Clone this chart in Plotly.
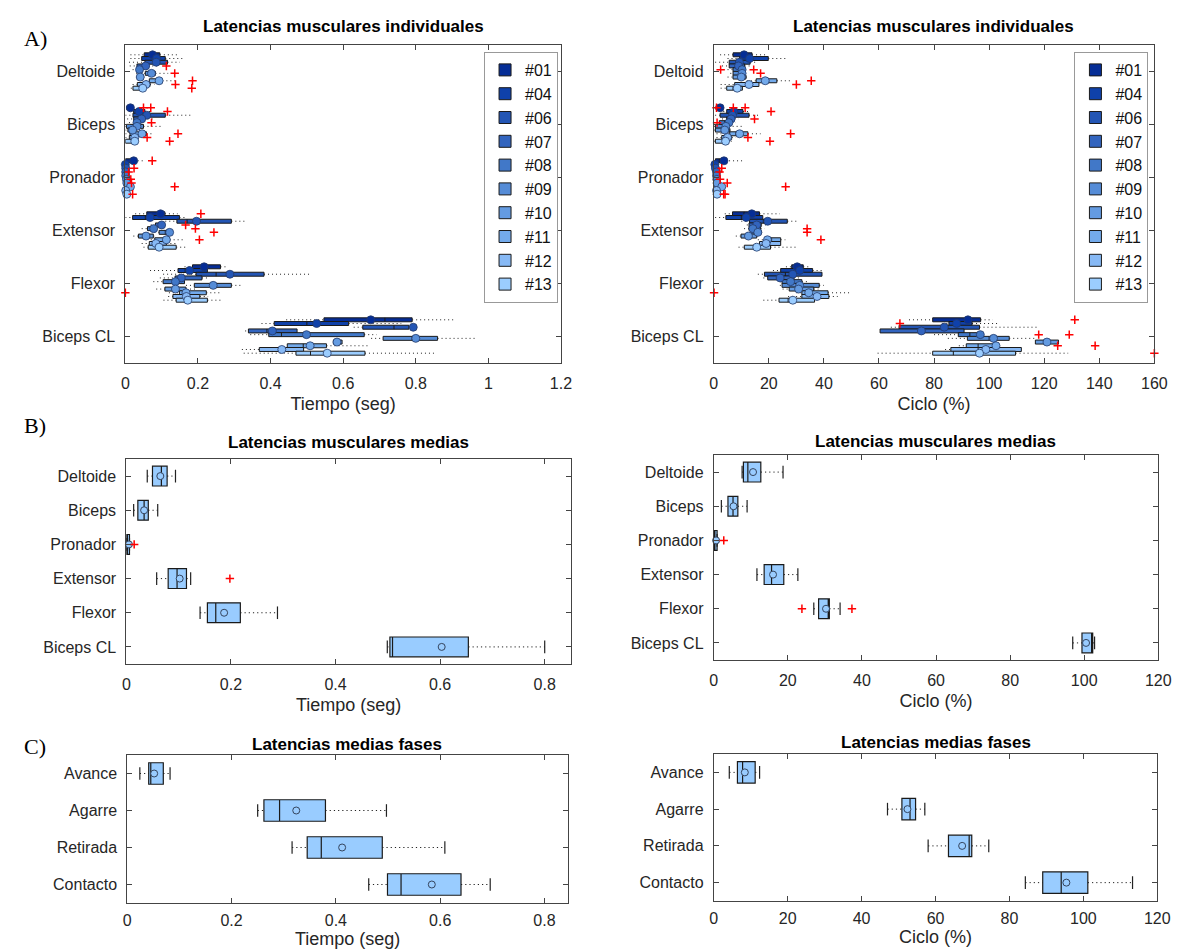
import plotly.graph_objects as go

W, H = 1183, 949
FONT = "Liberation Sans, Arial, sans-serif"

SUBJECTS = ["#01", "#04", "#06", "#07", "#08", "#09", "#10", "#11", "#12", "#13"]
SUBJ_COLORS = ["#052d96", "#0f41aa", "#2355b4", "#3264be", "#4178c8", "#558cd7",
               "#649be1", "#73aaeb", "#87b9f5", "#9bcdff"]

MUSCLES_T = ["Deltoide", "Biceps", "Pronador", "Extensor", "Flexor", "Biceps CL"]
MUSCLES_C = ["Deltoid", "Biceps", "Pronador", "Extensor", "Flexor", "Biceps CL"]
PHASES = ["Avance", "Agarre", "Retirada", "Contacto"]

# ---------- Individual latencies, time (s): [muscle][subject] ----------
t_lo = [
    [0.014, 0.014, 0.010, 0.012, 0.020, 0.030, 0.030, 0.045, 0.020, 0.015],
    [0.002, 0.010, 0.000, 0.005, 0.010, 0.000, 0.000, 0.000, 0.000, 0.000],
    [0.000, 0.000, 0.000, 0.000, 0.000, 0.000, 0.000, 0.000, 0.000, 0.000],
    [0.027, 0.000, 0.110, 0.070, 0.045, 0.080, 0.022, 0.070, 0.045, 0.050],
    [0.163, 0.068, 0.104, 0.095, 0.077, 0.167, 0.085, 0.120, 0.118, 0.105],
    [0.443, 0.375, 0.629, 0.330, 0.344, 0.677, 0.573, 0.446, 0.321, 0.326],
]
t_q1 = [
    [0.052, 0.045, 0.054, 0.032, 0.033, 0.055, 0.033, 0.066, 0.033, 0.021],
    [0.004, 0.023, 0.021, 0.023, 0.023, 0.003, 0.007, 0.013, 0.011, 0.000],
    [0.000, 0.000, 0.000, 0.000, 0.000, 0.000, 0.000, 0.002, 0.000, 0.000],
    [0.059, 0.020, 0.142, 0.083, 0.061, 0.093, 0.036, 0.081, 0.066, 0.063],
    [0.185, 0.145, 0.195, 0.137, 0.104, 0.190, 0.109, 0.149, 0.131, 0.140],
    [0.547, 0.410, 0.654, 0.339, 0.395, 0.710, 0.573, 0.446, 0.369, 0.470],
]
t_med = [
    [0.072, 0.080, 0.085, 0.050, 0.040, 0.070, 0.040, 0.085, 0.050, 0.040],
    [0.010, 0.035, 0.045, 0.040, 0.030, 0.030, 0.020, 0.040, 0.025, 0.025],
    [0.015, 0.000, 0.001, 0.001, 0.001, 0.002, 0.003, 0.010, 0.001, 0.003],
    [0.090, 0.055, 0.170, 0.095, 0.075, 0.110, 0.055, 0.105, 0.080, 0.085],
    [0.215, 0.165, 0.250, 0.150, 0.130, 0.235, 0.140, 0.160, 0.165, 0.170],
    [0.715, 0.500, 0.740, 0.390, 0.430, 0.790, 0.585, 0.490, 0.430, 0.510],
]
t_q3 = [
    [0.095, 0.110, 0.116, 0.063, 0.047, 0.083, 0.050, 0.102, 0.068, 0.052],
    [0.014, 0.054, 0.110, 0.050, 0.041, 0.050, 0.027, 0.058, 0.031, 0.031],
    [0.023, 0.002, 0.002, 0.002, 0.003, 0.004, 0.005, 0.014, 0.002, 0.005],
    [0.109, 0.149, 0.292, 0.104, 0.086, 0.127, 0.077, 0.122, 0.113, 0.140],
    [0.262, 0.226, 0.382, 0.211, 0.163, 0.292, 0.167, 0.223, 0.205, 0.226],
    [0.790, 0.615, 0.781, 0.473, 0.658, 0.860, 0.597, 0.554, 0.491, 0.660],
]
t_hi = [
    [0.149, 0.158, 0.150, 0.095, 0.060, 0.118, 0.060, 0.138, 0.080, 0.060],
    [0.020, 0.070, 0.184, 0.075, 0.050, 0.100, 0.040, 0.080, 0.040, 0.040],
    [0.050, 0.004, 0.004, 0.004, 0.004, 0.006, 0.007, 0.020, 0.004, 0.008],
    [0.144, 0.170, 0.334, 0.110, 0.090, 0.135, 0.080, 0.163, 0.140, 0.172],
    [0.276, 0.226, 0.511, 0.231, 0.163, 0.317, 0.195, 0.265, 0.228, 0.270],
    [0.905, 0.760, 0.800, 0.473, 0.692, 0.967, 0.597, 0.674, 0.491, 0.850],
]
t_mean = [
    [0.075, 0.086, 0.085, 0.056, 0.039, 0.072, 0.041, 0.093, 0.057, 0.048],
    [0.014, 0.038, 0.059, 0.045, 0.032, 0.032, 0.020, 0.046, 0.026, 0.026],
    [0.023, 0.000, 0.001, 0.001, 0.001, 0.003, 0.004, 0.014, 0.001, 0.004],
    [0.097, 0.068, 0.196, 0.100, 0.078, 0.122, 0.057, 0.113, 0.084, 0.093],
    [0.217, 0.177, 0.288, 0.154, 0.138, 0.242, 0.138, 0.167, 0.168, 0.172],
    [0.676, 0.527, 0.793, 0.405, 0.499, 0.800, 0.583, 0.509, 0.431, 0.556],
]
# outliers: (muscle, subject, value)
t_out = [
    (0, 3, 0.113), (0, 5, 0.136), (0, 7, 0.185), (0, 8, 0.138), (0, 9, 0.183),
    (1, 0, 0.050), (1, 0, 0.070), (1, 1, 0.116), (1, 4, 0.072), (1, 7, 0.145),
    (1, 8, 0.060), (1, 9, 0.122),
    (2, 0, 0.074), (2, 2, 0.024), (2, 3, 0.009), (2, 5, 0.015), (2, 6, 0.017),
    (2, 7, 0.136), (2, 9, 0.020),
    (3, 0, 0.208), (3, 3, 0.166), (3, 4, 0.193), (3, 5, 0.244), (3, 7, 0.204),
    (4, 7, 0.000),
]

# ---------- Individual latencies, cycle (%): [muscle][subject] ----------
c_lo = [
    [2.3, 5.0, 0.5, 3.0, 5.0, 6.0, 5.0, 12.0, 2.5, 2.5],
    [0.5, 2.0, 0.5, 3.0, 1.5, 0.0, 0.0, 1.0, 1.0, 0.0],
    [0.0, 0.0, 0.0, 0.0, 0.0, 0.0, 0.0, 0.0, 0.0, 0.0],
    [4.0, 0.5, 10.0, 12.0, 11.0, 12.0, 8.0, 16.0, 15.0, 9.0],
    [26.2, 21.5, 16.0, 18.0, 24.0, 24.0, 25.0, 30.0, 27.0, 18.0],
    [70.9, 83.0, 64.3, 60.4, 80.0, 85.0, 116.8, 89.0, 84.0, 59.5],
]
c_q1 = [
    [7.0, 9.4, 5.6, 5.6, 7.0, 7.0, 7.0, 15.4, 7.6, 4.7],
    [0.8, 4.7, 2.3, 4.7, 2.0, 0.6, 0.6, 5.8, 2.9, 0.6],
    [0.6, 0.0, 0.0, 0.0, 0.0, 0.0, 0.2, 0.5, 0.0, 0.2],
    [6.8, 4.4, 13.0, 12.8, 12.8, 13.5, 9.9, 19.0, 16.6, 11.1],
    [28.3, 24.3, 18.4, 19.6, 24.8, 24.8, 27.4, 32.0, 32.0, 23.7],
    [79.5, 85.4, 67.3, 60.4, 88.8, 92.1, 116.8, 91.7, 86.1, 79.5],
]
c_med = [
    [10.0, 12.0, 8.0, 8.5, 10.0, 10.0, 9.0, 18.0, 12.0, 7.0],
    [1.5, 7.0, 6.0, 6.0, 4.0, 3.5, 3.0, 8.0, 4.5, 3.5],
    [2.0, 0.2, 0.3, 0.5, 0.5, 0.6, 0.8, 2.0, 0.5, 0.8],
    [11.0, 10.0, 18.0, 15.0, 14.0, 15.0, 12.0, 21.0, 19.0, 15.0],
    [30.0, 30.0, 26.0, 23.0, 27.0, 30.0, 30.0, 34.0, 37.0, 27.0],
    [93.0, 88.0, 85.0, 75.0, 93.0, 100.0, 120.0, 96.0, 96.0, 87.0],
]
c_q3 = [
    [13.9, 19.8, 13.2, 11.2, 11.2, 10.6, 11.7, 22.9, 16.4, 10.4],
    [2.3, 10.6, 12.8, 7.5, 6.5, 5.4, 5.8, 12.4, 6.5, 4.7],
    [4.1, 0.5, 0.7, 1.0, 1.0, 1.2, 1.4, 3.0, 1.0, 1.4],
    [16.6, 17.8, 26.7, 17.2, 17.0, 17.2, 15.6, 24.3, 24.3, 20.6],
    [32.5, 35.9, 39.3, 29.1, 32.0, 38.3, 36.3, 41.5, 41.8, 36.6],
    [96.9, 93.8, 96.5, 90.9, 97.3, 107.3, 125.2, 103.0, 111.7, 109.6],
]
c_hi = [
    [19.6, 27.0, 16.0, 14.0, 12.5, 12.0, 13.0, 28.0, 16.4, 10.4],
    [3.0, 12.5, 16.7, 9.0, 8.0, 10.2, 7.0, 17.0, 8.0, 7.0],
    [11.2, 0.8, 1.0, 1.4, 1.4, 1.6, 2.0, 4.0, 1.4, 2.0],
    [24.0, 17.8, 30.9, 20.0, 18.5, 18.5, 17.0, 26.0, 24.3, 29.7],
    [34.5, 40.0, 39.3, 32.0, 34.0, 40.0, 38.0, 49.4, 45.0, 36.6],
    [101.3, 103.0, 117.4, 90.9, 97.3, 117.0, 125.2, 103.0, 111.7, 128.7],
]
c_mean = [
    [11.0, 13.0, 9.3, 9.0, 10.3, 10.3, 10.0, 18.7, 12.8, 8.5],
    [2.3, 7.3, 6.8, 6.3, 5.5, 4.4, 4.0, 9.4, 5.0, 4.3],
    [3.7, 0.4, 0.6, 1.0, 1.0, 1.1, 1.2, 2.9, 1.0, 1.2],
    [13.8, 11.8, 19.6, 15.6, 14.2, 16.0, 12.6, 19.5, 19.0, 15.6],
    [30.3, 31.2, 28.7, 24.1, 27.9, 31.2, 30.8, 34.5, 37.5, 28.7],
    [92.3, 88.2, 83.7, 75.4, 96.8, 101.6, 121.0, 102.5, 98.8, 96.5],
]
c_out = [
    (0, 4, 2.5), (0, 4, 14.5), (0, 5, 17.0), (0, 7, 35.4), (0, 8, 30.0),
    (1, 0, 1.0), (1, 0, 7.1), (1, 0, 11.4), (1, 1, 20.8), (1, 3, 14.8), (1, 4, 1.2),
    (1, 7, 27.9), (1, 8, 12.4), (1, 9, 20.4),
    (2, 2, 2.9), (2, 3, 2.1), (2, 5, 2.3), (2, 6, 4.9), (2, 7, 26.1), (2, 9, 3.6), (2, 9, 4.1),
    (3, 4, 33.9), (3, 5, 33.9), (3, 7, 38.9),
    (4, 7, 0.1),
    (5, 0, 131.1), (5, 1, 67.6), (5, 4, 118.0), (5, 4, 129.1), (5, 7, 124.9),
    (5, 7, 138.5), (5, 9, 160.0),
]

# ---------- Mean latencies per muscle ----------
mt_lo = [0.040, 0.014, 0.000, 0.058, 0.141, 0.499]
mt_q1 = [0.050, 0.022, 0.000, 0.080, 0.155, 0.504]
mt_med = [0.067, 0.034, 0.002, 0.097, 0.171, 0.509]
mt_q3 = [0.078, 0.042, 0.006, 0.115, 0.218, 0.654]
mt_hi = [0.094, 0.060, 0.006, 0.123, 0.289, 0.800]
mt_mean = [0.065, 0.034, 0.005, 0.102, 0.187, 0.603]
mt_out = [(2, 0.015), (3, 0.198)]

mc_lo = [7.65, 2.05, 0.0, 11.65, 27.0, 96.9]
mc_q1 = [8.0, 3.83, 0.0, 13.6, 28.3, 99.4]
mc_med = [9.2, 5.2, 0.3, 15.6, 30.9, 102.0]
mc_q3 = [12.7, 6.5, 0.9, 18.9, 31.2, 102.3]
mc_hi = [18.7, 9.0, 0.9, 22.7, 34.1, 102.8]
mc_mean = [10.6, 5.33, 0.63, 16.0, 30.3, 100.5]
mc_out = [(2, 2.7), (4, 23.8), (4, 37.3)]

# ---------- Mean latencies per phase ----------
pt_lo = [0.024, 0.250, 0.316, 0.463]
pt_q1 = [0.041, 0.262, 0.345, 0.499]
pt_med = [0.045, 0.292, 0.372, 0.525]
pt_q3 = [0.069, 0.380, 0.489, 0.640]
pt_hi = [0.082, 0.497, 0.609, 0.696]
pt_mean = [0.0515, 0.324, 0.412, 0.584]

pc_lo = [4.2, 47.0, 58.0, 84.3]
pc_q1 = [6.4, 50.9, 63.5, 89.0]
pc_med = [7.8, 53.1, 69.1, 94.0]
pc_q3 = [11.2, 54.6, 69.8, 101.2]
pc_hi = [12.4, 57.1, 74.4, 113.3]
pc_mean = [8.4, 52.4, 67.2, 95.4]

# ---------------------------------------------------------------------
fig = go.Figure()

def px_dom_x(a, b):
    return [a / W, b / W]

def px_dom_y(top, bottom):
    return [1 - bottom / H, 1 - top / H]

OFFSET = 0.07
LIGHT = "#99ccff"
EDGE = "#1a1a1a"


def individual(ax, lo, q1, med, q3, hi, mean, outs, legend):
    xa, ya = ("x" + ax, "y" + ax) if ax != "1" else ("x", "y")
    wx, wy = [], []
    for m in range(6):
        for s in range(10):
            pos = m + 1 + (s - 4.5) * OFFSET
            wx += [lo[m][s], q1[m][s], None, q3[m][s], hi[m][s], None]
            wy += [pos, pos, None, pos, pos, None]
    fig.add_trace(go.Scatter(x=wx, y=wy, mode="lines", xaxis=xa, yaxis=ya,
                             line=dict(color="#222222", width=1, dash="1px,3px"),
                             showlegend=False, hoverinfo="skip"))
    for s in range(10):
        pos = [m + 1 + (s - 4.5) * OFFSET for m in range(6)]
        fig.add_trace(go.Box(
            y=pos, orientation="h", name=SUBJECTS[s],
            q1=[q1[m][s] for m in range(6)],
            median=[med[m][s] for m in range(6)],
            q3=[q3[m][s] for m in range(6)],
            lowerfence=[q1[m][s] for m in range(6)],
            upperfence=[q3[m][s] for m in range(6)],
            width=0.075, whiskerwidth=0, boxpoints=False,
            fillcolor=SUBJ_COLORS[s], line=dict(color=EDGE, width=1),
            xaxis=xa, yaxis=ya, legend=legend, showlegend=True, hoverinfo="skip"))
    mx, my, mcol = [], [], []
    for m in range(6):
        for s in range(10):
            mx.append(mean[m][s])
            my.append(m + 1 + (s - 4.5) * OFFSET)
            mcol.append(SUBJ_COLORS[s])
    fig.add_trace(go.Scatter(x=mx, y=my, mode="markers", xaxis=xa, yaxis=ya,
                             marker=dict(size=8, color=mcol,
                                         line=dict(color="#233a6a", width=0.8)),
                             cliponaxis=False, showlegend=False, hoverinfo="skip"))
    ox = [o[2] for o in outs]
    oy = [o[0] + 1 + (o[1] - 4.5) * OFFSET for o in outs]
    fig.add_trace(go.Scatter(x=ox, y=oy, mode="markers", xaxis=xa, yaxis=ya,
                             marker=dict(symbol="cross-thin", size=6,
                                         line=dict(color="red", width=1.5)),
                             cliponaxis=False, showlegend=False, hoverinfo="skip"))


def summary(ax, lo, q1, med, q3, hi, mean, outs):
    xa, ya = "x" + ax, "y" + ax
    n = len(q1)
    pos = list(range(1, n + 1))
    wx, wy = [], []
    for i in range(n):
        wx += [lo[i], q1[i], None, q3[i], hi[i], None]
        wy += [pos[i], pos[i], None, pos[i], pos[i], None]
    fig.add_trace(go.Scatter(x=wx, y=wy, mode="lines", xaxis=xa, yaxis=ya,
                             line=dict(color="#222222", width=1, dash="1.2px,3px"),
                             showlegend=False, hoverinfo="skip"))
    fig.add_trace(go.Scatter(x=lo + hi, y=pos + pos, mode="markers", xaxis=xa, yaxis=ya,
                             marker=dict(symbol="line-ns", size=9,
                                         line=dict(color="#222222", width=1.2)),
                             showlegend=False, hoverinfo="skip"))
    fig.add_trace(go.Box(y=pos, orientation="h", q1=q1, median=med, q3=q3,
                         lowerfence=q1, upperfence=q3, width=0.58, whiskerwidth=0,
                         boxpoints=False, fillcolor=LIGHT,
                         line=dict(color=EDGE, width=1.2),
                         xaxis=xa, yaxis=ya, showlegend=False, hoverinfo="skip"))
    fig.add_trace(go.Scatter(x=mean, y=pos, mode="markers", xaxis=xa, yaxis=ya,
                             marker=dict(size=7, color=LIGHT,
                                         line=dict(color="#34445e", width=1)),
                             cliponaxis=False, showlegend=False, hoverinfo="skip"))
    if outs:
        fig.add_trace(go.Scatter(x=[o[1] for o in outs], y=[o[0] + 1 for o in outs],
                                 mode="markers", xaxis=xa, yaxis=ya,
                                 marker=dict(symbol="cross-thin", size=6,
                                             line=dict(color="red", width=1.5)),
                                 cliponaxis=False, showlegend=False, hoverinfo="skip"))


individual("1", t_lo, t_q1, t_med, t_q3, t_hi, t_mean, t_out, "legend")
individual("2", c_lo, c_q1, c_med, c_q3, c_hi, c_mean, c_out, "legend2")
summary("3", mt_lo, mt_q1, mt_med, mt_q3, mt_hi, mt_mean, mt_out)
summary("4", mc_lo, mc_q1, mc_med, mc_q3, mc_hi, mc_mean, mc_out)
summary("5", pt_lo, pt_q1, pt_med, pt_q3, pt_hi, pt_mean, [])
summary("6", pc_lo, pc_q1, pc_med, pc_q3, pc_hi, pc_mean, [])

AX = dict(showline=True, linecolor="#444444", linewidth=1, mirror="ticks",
          ticks="inside", ticklen=5, tickcolor="#444444", zeroline=False,
          showgrid=False, tickfont=dict(family=FONT, size=16, color="#262626"))


def xax(dom, rng, dtick, title, anchor, standoff=6, labeloff=6):
    return dict(AX, domain=dom, range=rng, dtick=dtick, tick0=0, anchor=anchor,
                ticklabelstandoff=labeloff,
                title=dict(text=title, standoff=standoff,
                           font=dict(family=FONT, size=18, color="#262626")))


def yax(dom, labels, anchor):
    n = len(labels)
    return dict(AX, domain=dom, range=[n + 0.5, 0.5], tickvals=list(range(1, n + 1)),
                ticktext=labels, anchor=anchor, ticklabelstandoff=6)


LEG = dict(xanchor="right", y=1 - 44 / H, yanchor="top",
           bgcolor="white", bordercolor="#999999", borderwidth=1,
           font=dict(family=FONT, size=16, color="#111111"), tracegroupgap=0)

fig.update_layout(
    width=W, height=H, autosize=False,
    margin=dict(l=0, r=0, t=0, b=0),
    paper_bgcolor="white", plot_bgcolor="white",
    font=dict(family=FONT, color="#262626"),
    xaxis=xax(px_dom_x(115, 557), [0, 1.2], 0.2, "Tiempo (seg)", "y"),
    yaxis=yax(px_dom_y(37, 355), MUSCLES_T, "x"),
    xaxis2=xax(px_dom_x(712, 1159), [0, 160], 20, "Ciclo (%)", "y2"),
    yaxis2=yax(px_dom_y(37, 355), MUSCLES_C, "x2"),
    xaxis3=xax(px_dom_x(116, 567), [0, 0.85], 0.2, "Tiempo (seg)", "y3"),
    yaxis3=yax(px_dom_y(451, 656), MUSCLES_T, "x3"),
    xaxis4=xax(px_dom_x(712, 1163), [0, 120], 20, "Ciclo (%)", "y4"),
    yaxis4=yax(px_dom_y(447, 652), MUSCLES_T, "x4"),
    xaxis5=xax(px_dom_x(117, 564), [0, 0.845], 0.2, "Tiempo (seg)", "y5",
               standoff=0, labeloff=3),
    yaxis5=yax(px_dom_y(747, 895), PHASES, "x5"),
    xaxis6=xax(px_dom_x(712, 1162), [0, 120], 20, "Ciclo (%)", "y6",
               standoff=0, labeloff=3),
    yaxis6=yax(px_dom_y(746, 893), PHASES, "x6"),
    legend=dict(LEG, x=554 / W),
    legend2=dict(LEG, x=1153 / W),
)

titles = [
    ("Latencias musculares individuales", 336, 19),
    ("Latencias musculares individuales", 935, 19),
    ("Latencias musculares medias", 341, 435),
    ("Latencias musculares medias", 937, 433),
    ("Latencias medias fases", 340, 736),
    ("Latencias medias fases", 937, 734),
]
for text, xpx, ypx in titles:
    fig.add_annotation(text="<b>%s</b>" % text, x=xpx / W, y=1 - ypx / H,
                       xref="paper", yref="paper", showarrow=False,
                       font=dict(family=FONT, size=17, color="black"),
                       xanchor="center", yanchor="middle")

for text, ypx in [("A)", 30), ("B)", 418), ("C)", 738)]:
    fig.add_annotation(text=text, x=10 / W, y=1 - ypx / H, xref="paper", yref="paper",
                       showarrow=False, xanchor="left", yanchor="middle",
                       font=dict(family="Liberation Serif, DejaVu Serif, serif",
                                 size=22, color="black"))

fig.write_html("out.html")
